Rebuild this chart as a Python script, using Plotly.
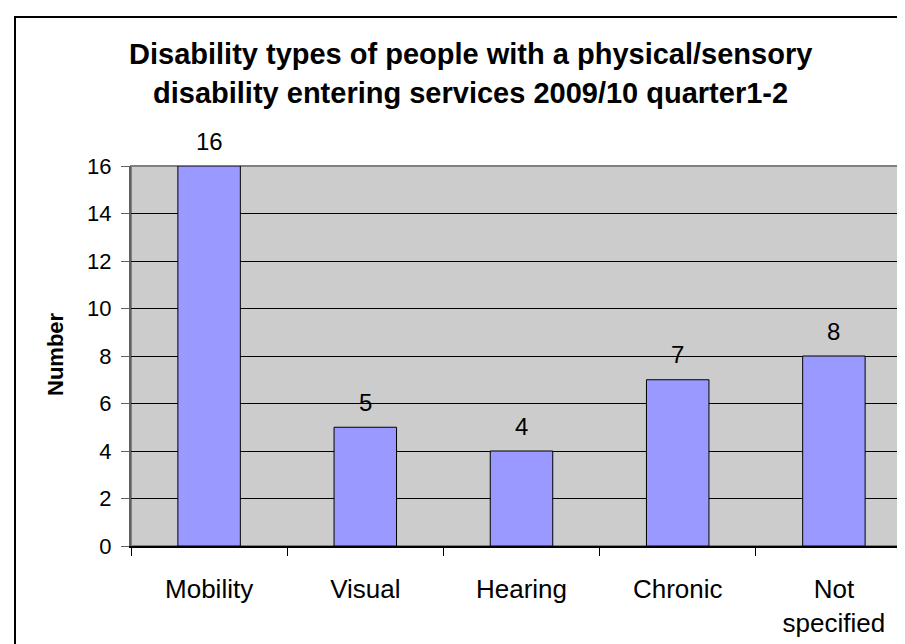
import plotly.graph_objects as go

categories = ["Mobility", "Visual", "Hearing", "Chronic", "Not specified"]
tick_labels = ["Mobility", "Visual", "Hearing", "Chronic", "Not<br>specified"]
values = [16, 5, 4, 7, 8]
title_lines = ["Disability types of people with a physical/sensory",
               "disability entering services 2009/10 quarter1-2"]
y_title = "Number"

FONT = "Liberation Sans, Arial, sans-serif"
W, H = 905, 644
ML, MR, MT, MB = 123, 1, 158, 106
PW, PH = W - ML - MR, H - MT - MB

def px_x(x):
    return (x - ML) / PW

def px_y(y):
    return (H - MB - y) / PH

fig = go.Figure()
fig.add_trace(go.Bar(
    x=categories, y=values, width=0.4,
    marker=dict(color="#9999FF", line=dict(color="black", width=1)),
    hoverinfo="skip",
))

annotations = []
for c, v in zip(categories, values):
    annotations.append(dict(x=c, y=v, xref="x", yref="y", text=str(v), showarrow=False,
                            yanchor="middle", yshift=25,
                            font=dict(family=FONT, size=24, color="black")))
annotations.append(dict(x=px_x(462), y=px_y(46.5), xref="paper", yref="paper",
                        text="<b>%s</b>" % title_lines[0], showarrow=False,
                        xanchor="center", yanchor="middle",
                        font=dict(family=FONT, size=29, color="black")))
annotations.append(dict(x=px_x(462), y=px_y(84.5), xref="paper", yref="paper",
                        text="<b>%s</b>" % title_lines[1], showarrow=False,
                        xanchor="center", yanchor="middle",
                        font=dict(family=FONT, size=29, color="black")))
annotations.append(dict(x=px_x(47), y=px_y(346), xref="paper", yref="paper",
                        text="<b>%s</b>" % y_title, showarrow=False, textangle=-90,
                        xanchor="center", yanchor="middle",
                        font=dict(family=FONT, size=22, color="black")))

shapes = [
    dict(type="rect", xref="paper", yref="paper", x0=0, x1=1, y0=0, y1=1,
         line=dict(color="#808080", width=2), layer="below"),
    dict(type="rect", xref="paper", yref="paper", x0=px_x(7), x1=px_x(918),
         y0=px_y(660), y1=px_y(9), line=dict(color="black", width=2)),
]

fig.update_layout(
    width=W, height=H,
    margin=dict(l=ML, r=MR, t=MT, b=MB, pad=0),
    paper_bgcolor="white", plot_bgcolor="#CCCCCC",
    showlegend=False,
    annotations=annotations, shapes=shapes,
    font=dict(family=FONT, color="black"),
)
fig.update_xaxes(
    type="category", range=[-0.5, 4.5],
    tickmode="array", tickvals=categories, ticktext=tick_labels,
    tickson="boundaries", ticks="outside", ticklen=8, tickcolor="black", tickwidth=1,
    showline=True, linecolor="black", linewidth=1.5,
    showgrid=False, zeroline=False,
    tickfont=dict(family=FONT, size=26, color="black"),
    ticklabelstandoff=19,
)
fig.update_yaxes(
    range=[0, 16], dtick=2, tick0=0,
    ticks="outside", ticklen=8, tickcolor="#606060", tickwidth=1,
    showline=True, linecolor="#606060", linewidth=2,
    showgrid=True, gridcolor="black", gridwidth=1, zeroline=False,
    tickfont=dict(family=FONT, size=22, color="black"),
    ticklabelstandoff=5,
)

fig.write_html("out.html")
